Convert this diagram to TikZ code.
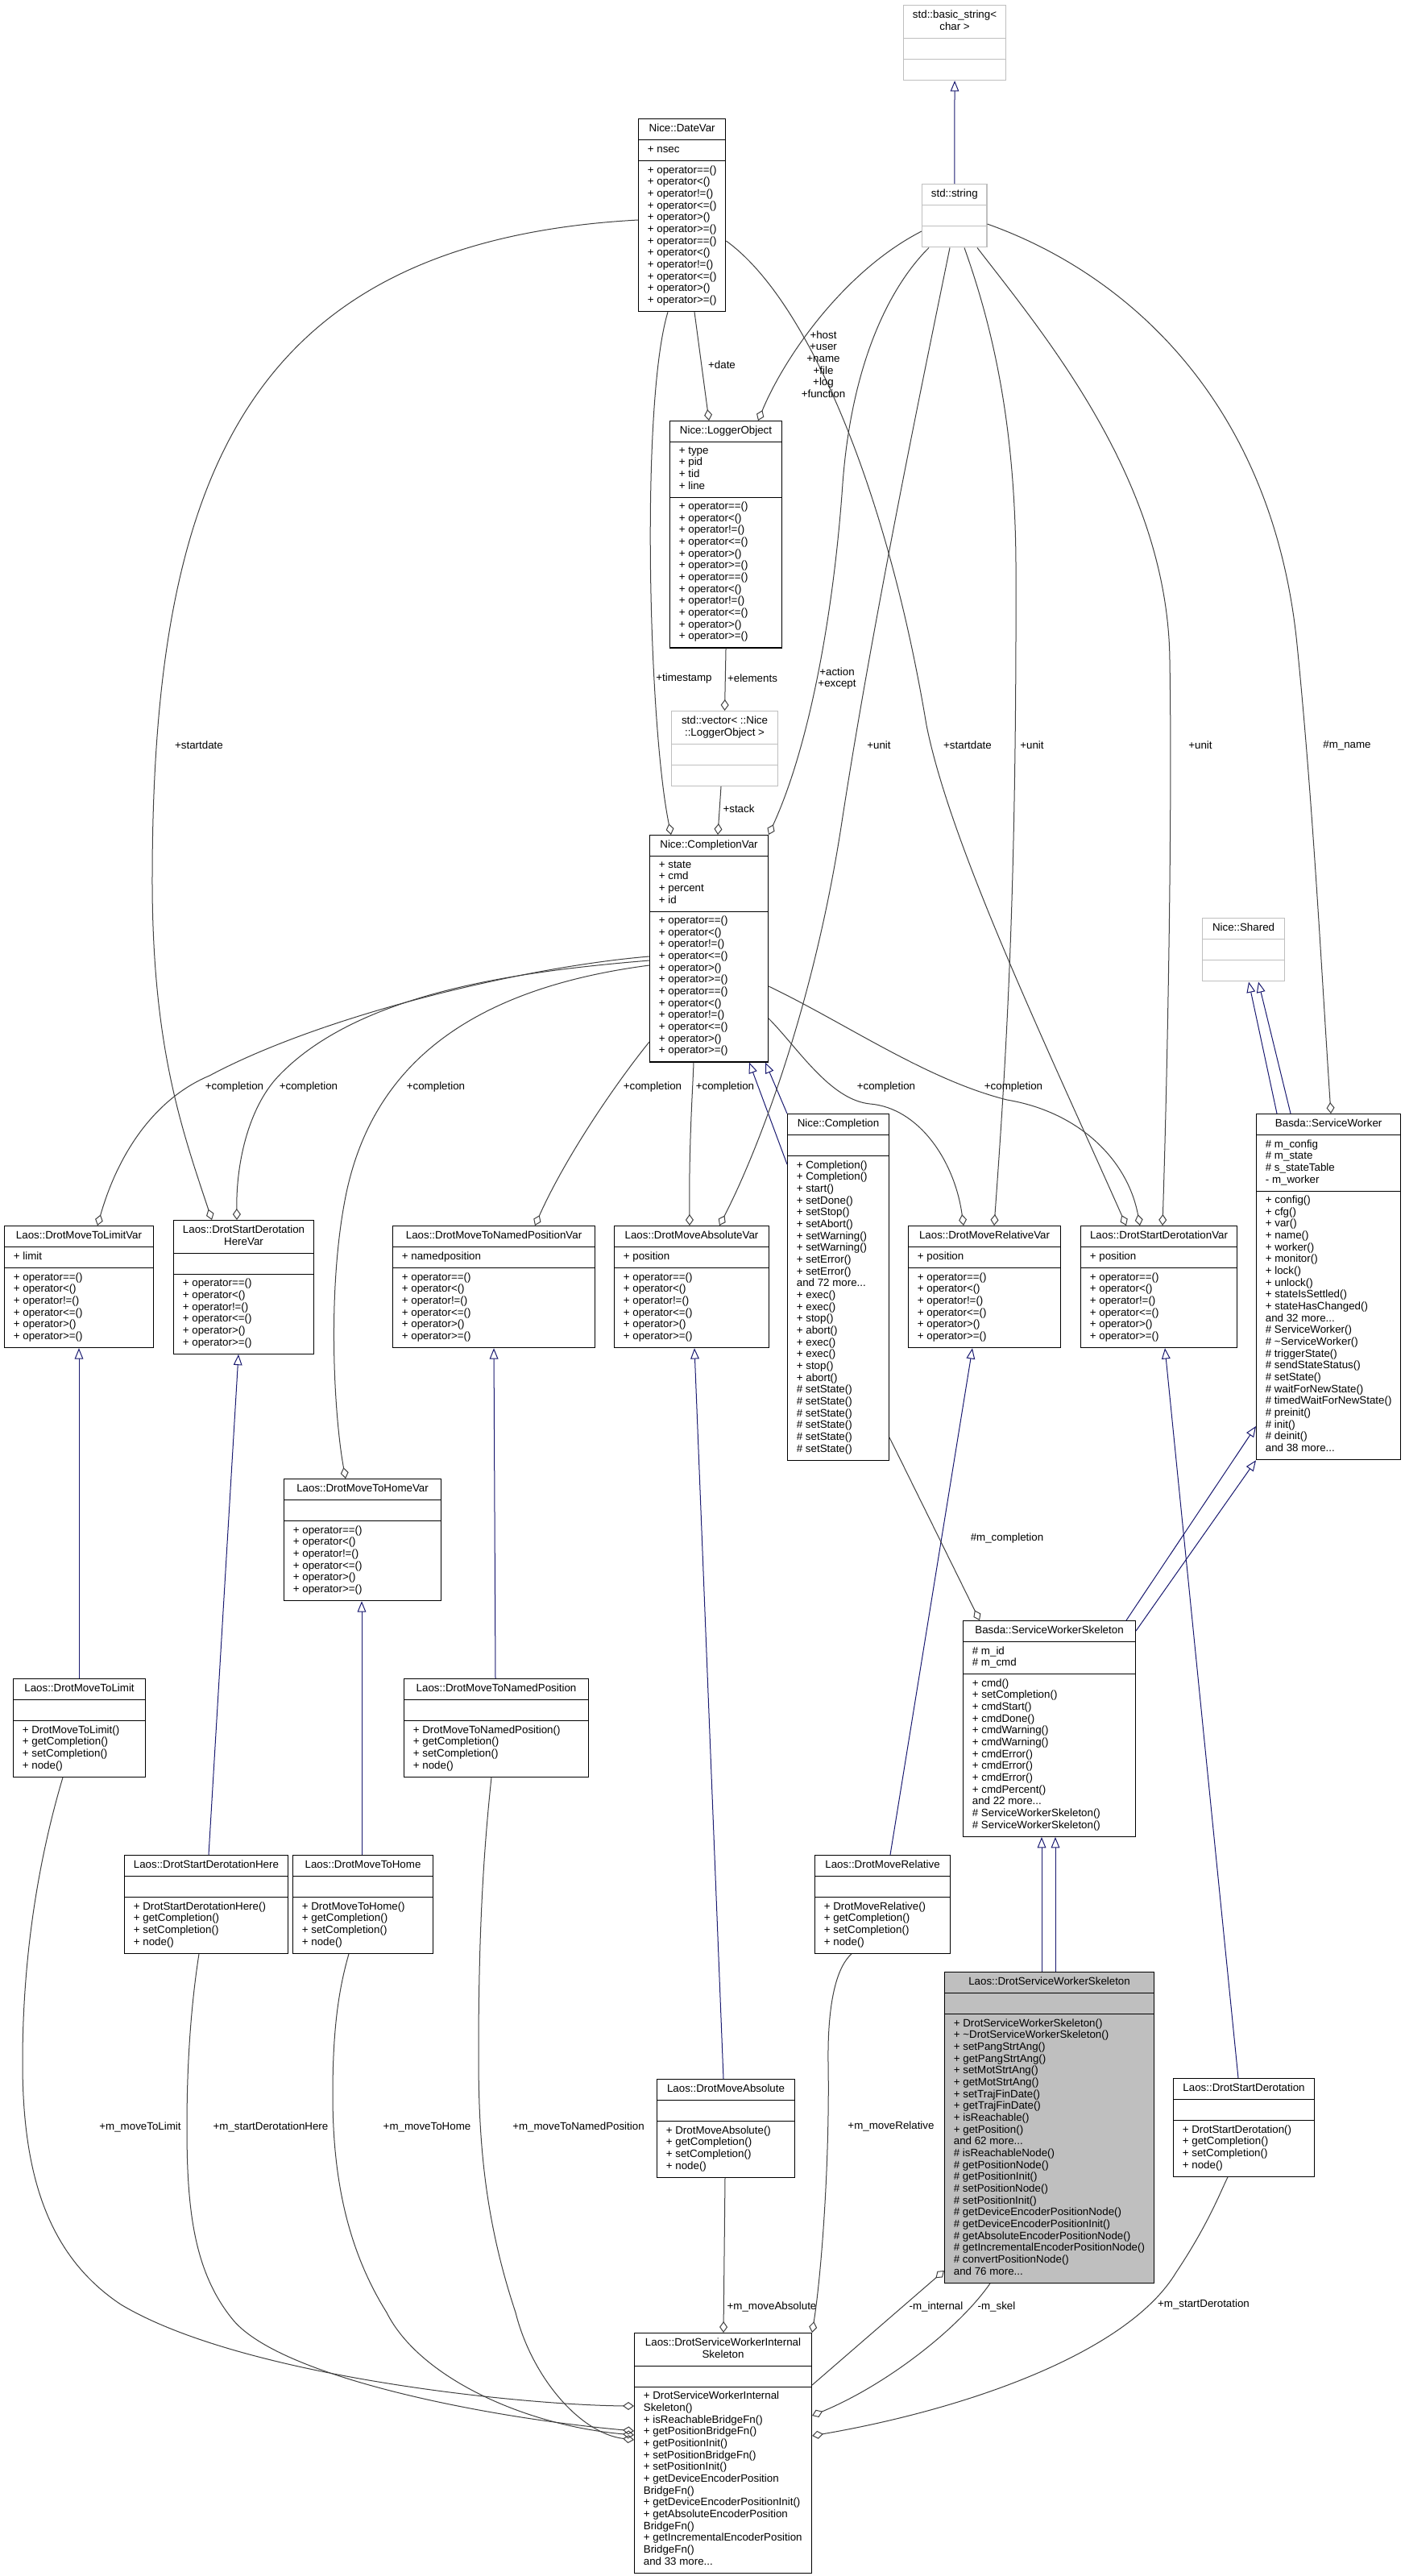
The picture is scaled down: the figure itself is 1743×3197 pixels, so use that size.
\documentclass[tikz,border=0pt]{standalone}
\usepackage{fontspec}
\setmainfont{Liberation Sans}
\usetikzlibrary{arrows.meta,shapes.multipart}
\definecolor{doxEdge}{HTML}{404040}
\definecolor{doxBlue}{HTML}{191970}
\definecolor{doxGrey}{HTML}{BFBFBF}
\newcommand\opssix{+ operator==()\\+ operator<()\\+ operator!=()\\+ operator<=()\\+ operator>()\\+ operator>=()}
\newcommand\opstwelve{\opssix\\\opssix}
\newcommand\twoline[1]{\begin{tabular}{@{}c@{}}#1\end{tabular}}
\newcommand\fourmeth[1]{+ #1()\\+ getCompletion()\\+ setCompletion()\\+ node()}

\begin{document}
\begin{tikzpicture}[x=0.75pt,y=-0.75pt,
    cls/.style={rectangle split, rectangle split parts=3,
      rectangle split part align={center,left,left}, align=left,
      draw=black, line width=0.8pt, anchor=north west,
      minimum width=#1*0.75pt, inner xsep=8.5pt, inner ysep=3.9pt,
      font=\fontsize{10}{11}\selectfont, execute at begin node=\strut},
    ext/.style={cls=#1, draw=doxGrey},
    cur/.style={cls=#1, fill=doxGrey},
    agg/.style={draw=doxEdge, line width=0.75pt, {Diamond[open,length=10.5pt,width=7.5pt]}-},
    inh/.style={draw=doxBlue, line width=0.75pt, {Triangle[open,length=10pt,width=8pt]}-},
    lbl/.style={font=\fontsize{10}{11}\selectfont, inner sep=0pt, align=center}]
  \fill[white] (0,0) rectangle (1743,3197);
  \useasboundingbox (0,0) rectangle (1743,3197);

  % classes
  \node[ext=127] (bstr) at (1121,6) {\twoline{std::basic\_string<\\char >}\nodepart{two}\nodepart{three}};
  \node[ext=80] (str) at (1144,228) {std::string\nodepart{two}\nodepart{three}};
  \node[cls=108] (datevar) at (792,147) {Nice::DateVar\nodepart{two}+ nsec\nodepart{three}\opstwelve};
  \node[cls=139] (logger) at (831,522) {Nice::LoggerObject\nodepart{two}+ type\\+ pid\\+ tid\\+ line\nodepart{three}\opstwelve};
  \node[ext=132] (vec) at (833,882) {\twoline{std::vector< ::Nice\\::LoggerObject >}\nodepart{two}\nodepart{three}};
  \node[cls=147] (complvar) at (806,1036) {Nice::CompletionVar\nodepart{two}+ state\\+ cmd\\+ percent\\+ id\nodepart{three}\opstwelve};
  \node[cls=126] (compl) at (977,1382) {Nice::Completion\nodepart{two}\nodepart{three}+ Completion()\\+ Completion()\\+ start()\\+ setDone()\\+ setStop()\\+ setAbort()\\+ setWarning()\\+ setWarning()\\+ setError()\\+ setError()\\and 72 more...\\+ exec()\\+ exec()\\+ stop()\\+ abort()\\+ exec()\\+ exec()\\+ stop()\\+ abort()\\\# setState()\\\# setState()\\\# setState()\\\# setState()\\\# setState()\\\# setState()};
  \node[ext=102] (shared) at (1492,1139) {Nice::Shared\nodepart{two}\nodepart{three}};
  \node[cls=179] (sworker) at (1559,1382) {Basda::ServiceWorker\nodepart{two}\# m\_config\\\# m\_state\\\# s\_stateTable\\- m\_worker\nodepart{three}+ config()\\+ cfg()\\+ var()\\+ name()\\+ worker()\\+ monitor()\\+ lock()\\+ unlock()\\+ stateIsSettled()\\+ stateHasChanged()\\and 32 more...\\\# ServiceWorker()\\\# \textasciitilde ServiceWorker()\\\# triggerState()\\\# sendStateStatus()\\\# setState()\\\# waitForNewState()\\\# timedWaitForNewState()\\\# preinit()\\\# init()\\\# deinit()\\and 38 more...};
  \node[cls=185] (limitvar) at (5,1521) {Laos::DrotMoveToLimitVar\nodepart{two}+ limit\nodepart{three}\opssix};
  \node[cls=174] (herevar) at (215,1514) {\twoline{Laos::DrotStartDerotation\\HereVar}\nodepart{two}\nodepart{three}\opssix};
  \node[cls=251] (namedvar) at (487,1521) {Laos::DrotMoveToNamedPositionVar\nodepart{two}+ namedposition\nodepart{three}\opssix};
  \node[cls=192] (absvar) at (762,1521) {Laos::DrotMoveAbsoluteVar\nodepart{two}+ position\nodepart{three}\opssix};
  \node[cls=189] (relvar) at (1127,1521) {Laos::DrotMoveRelativeVar\nodepart{two}+ position\nodepart{three}\opssix};
  \node[cls=194] (derotvar) at (1341,1521) {Laos::DrotStartDerotationVar\nodepart{two}+ position\nodepart{three}\opssix};
  \node[cls=195] (homevar) at (352,1835) {Laos::DrotMoveToHomeVar\nodepart{two}\nodepart{three}\opssix};
  \node[cls=214] (swskel) at (1195,2011) {Basda::ServiceWorkerSkeleton\nodepart{two}\# m\_id\\\# m\_cmd\nodepart{three}+ cmd()\\+ setCompletion()\\+ cmdStart()\\+ cmdDone()\\+ cmdWarning()\\+ cmdWarning()\\+ cmdError()\\+ cmdError()\\+ cmdError()\\+ cmdPercent()\\and 22 more...\\\# ServiceWorkerSkeleton()\\\# ServiceWorkerSkeleton()};
  \node[cls=164] (limit) at (16,2083) {Laos::DrotMoveToLimit\nodepart{two}\nodepart{three}\fourmeth{DrotMoveToLimit}};
  \node[cls=229] (named) at (501,2083) {Laos::DrotMoveToNamedPosition\nodepart{two}\nodepart{three}\fourmeth{DrotMoveToNamedPosition}};
  \node[cls=202] (here) at (154,2302) {Laos::DrotStartDerotationHere\nodepart{two}\nodepart{three}\fourmeth{DrotStartDerotationHere}};
  \node[cls=174] (home) at (363,2302) {Laos::DrotMoveToHome\nodepart{two}\nodepart{three}\fourmeth{DrotMoveToHome}};
  \node[cls=168] (rel) at (1011,2302) {Laos::DrotMoveRelative\nodepart{two}\nodepart{three}\fourmeth{DrotMoveRelative}};
  \node[cur=260] (drotskel) at (1172,2447) {Laos::DrotServiceWorkerSkeleton\nodepart{two}\nodepart{three}+ DrotServiceWorkerSkeleton()\\+ \textasciitilde DrotServiceWorkerSkeleton()\\+ setPangStrtAng()\\+ getPangStrtAng()\\+ setMotStrtAng()\\+ getMotStrtAng()\\+ setTrajFinDate()\\+ getTrajFinDate()\\+ isReachable()\\+ getPosition()\\and 62 more...\\\# isReachableNode()\\\# getPositionNode()\\\# getPositionInit()\\\# setPositionNode()\\\# setPositionInit()\\\# getDeviceEncoderPositionNode()\\\# getDeviceEncoderPositionInit()\\\# getAbsoluteEncoderPositionNode()\\\# getIncrementalEncoderPositionNode()\\\# convertPositionNode()\\and 76 more...};
  \node[cls=175] (derot) at (1456,2579) {Laos::DrotStartDerotation\nodepart{two}\nodepart{three}\fourmeth{DrotStartDerotation}};
  \node[cls=171] (abs) at (815,2580) {Laos::DrotMoveAbsolute\nodepart{two}\nodepart{three}\fourmeth{DrotMoveAbsolute}};
  \node[cls=220] (internal) at (787,2895) {\twoline{Laos::DrotServiceWorkerInternal\\Skeleton}\nodepart{two}\nodepart{three}+ DrotServiceWorkerInternal\\Skeleton()\\+ isReachableBridgeFn()\\+ getPositionBridgeFn()\\+ getPositionInit()\\+ setPositionBridgeFn()\\+ setPositionInit()\\+ getDeviceEncoderPosition\\BridgeFn()\\+ getDeviceEncoderPositionInit()\\+ getAbsoluteEncoderPosition\\BridgeFn()\\+ getIncrementalEncoderPosition\\BridgeFn()\\and 33 more...};

  % inheritance
  \draw[inh] (bstr.south) -- (str.north);
  \draw[inh] (930,0 |- complvar.south) -- (compl.west |- 0,1445);
  \draw[inh] (950,0 |- complvar.south) -- (compl.north west);
  \draw[inh] (1550,0 |- shared.south) -- (1585,0 |- sworker.north);
  \draw[inh] (1562,0 |- shared.south) -- (1602,0 |- sworker.north);
  \draw[inh] (sworker.west |- 0,1770) -- (1398,0 |- swskel.north);
  \draw[inh] (sworker.south west) -- (swskel.east |- 0,2024);
  \draw[inh] (98,0 |- limitvar.south) -- (98,0 |- limit.north);
  \draw[inh] (296,0 |- herevar.south) -- (259,0 |- here.north);
  \draw[inh] (449,0 |- homevar.south) -- (449,0 |- home.north);
  \draw[inh] (613,0 |- namedvar.south) -- (615,0 |- named.north);
  \draw[inh] (862,0 |- absvar.south) -- (898,0 |- abs.north);
  \draw[inh] (1207,0 |- relvar.south) -- (1105,0 |- rel.north);
  \draw[inh] (1446,0 |- derotvar.south) -- (1537,0 |- derot.north);
  \draw[inh] (1293,0 |- swskel.south) -- (1293,0 |- drotskel.north);
  \draw[inh] (1310,0 |- swskel.south) -- (1310,0 |- drotskel.north);

  % members
  \draw[agg] (880,0 |- logger.north) -- (862,0 |- datevar.south);
  \draw[agg] (941,0 |- logger.north) .. controls (975,440) and (1050,335) .. (str.west |- 0,287);
  \draw[agg] (833,0 |- complvar.north) .. controls (805,900) and (795,500) .. (829,0 |- datevar.south);
  \draw[agg] (vec.north) -- (logger.south);
  \draw[agg] (891,0 |- complvar.north) -- (895,0 |- vec.south);
  \draw[agg] (complvar.north east) .. controls (1005,925) and (1035,760) .. (1046,600) .. controls (1058,440) and (1110,350) .. (1153,0 |- str.south);
  \draw[agg] (893,0 |- absvar.north) .. controls (940,1430) and (1010,1250) .. (1045,1020) .. controls (1085,760) and (1150,450) .. (1179,0 |- str.south);
  \draw[agg] (1398,0 |- derotvar.north) .. controls (1300,1300) and (1180,1050) .. (1150,900) .. controls (1100,600) and (1000,370) .. (datevar.east |- 0,299);
  \draw[agg] (1234,0 |- relvar.north) .. controls (1250,1300) and (1262,1100) .. (1261,700) .. controls (1260,520) and (1230,400) .. (1197,0 |- str.south);
  \draw[agg] (1443,0 |- derotvar.north) .. controls (1450,1300) and (1455,1000) .. (1452,820) .. controls (1450,600) and (1300,420) .. (1213,0 |- str.south);
  \draw[agg] (1652,0 |- sworker.north) .. controls (1640,1200) and (1630,1000) .. (1610,800) .. controls (1580,500) and (1400,340) .. (str.east |- 0,278);
  \draw[agg] (263,0 |- herevar.north) .. controls (225,1400) and (190,1300) .. (189,1100) .. controls (188,600) and (300,300) .. (datevar.west |- 0,273);
  \draw[agg] (121,0 |- limitvar.north) .. controls (150,1420) and (200,1360) .. (260,1335) .. controls (400,1260) and (650,1200) .. (complvar.west |- 0,1187);
  \draw[agg] (294,0 |- herevar.north) .. controls (293,1440) and (310,1370) .. (349,1332) .. controls (450,1230) and (650,1205) .. (complvar.west |- 0,1192);
  \draw[agg] (429,0 |- homevar.north) .. controls (415,1760) and (405,1600) .. (430,1480) .. controls (460,1340) and (560,1230) .. (complvar.west |- 0,1198);
  \draw[agg] (664,0 |- namedvar.north) .. controls (700,1440) and (760,1350) .. (complvar.west |- 0,1293);
  \draw[agg] (856,0 |- absvar.north) .. controls (855,1420) and (860,1350) .. (861,0 |- complvar.south);
  \draw[agg] (1196,0 |- relvar.north) .. controls (1185,1440) and (1140,1375) .. (1080,1370) .. controls (1030,1365) and (990,1300) .. (complvar.east |- 0,1264);
  \draw[agg] (1415,0 |- derotvar.north) .. controls (1400,1440) and (1340,1380) .. (1250,1365) .. controls (1150,1340) and (1050,1270) .. (complvar.east |- 0,1224);
  \draw[agg] (1216,0 |- swskel.north) -- (compl.east |- 0,1784);
  \draw[agg] (898,0 |- internal.north) -- (900,0 |- abs.south);
  \draw[agg] (internal.north east) .. controls (1020,2820) and (1030,2680) .. (1028,2560) .. controls (1027,2480) and (1040,2440) .. (1057,0 |- rel.south);
  \draw[agg] (drotskel.west |- 0,2818) -- (internal.east |- 0,2960);
  \draw[agg] (internal.east |- 0,2998) .. controls (1100,2960) and (1190,2890) .. (1229,0 |- drotskel.south);
  \draw[agg] (internal.east |- 0,3023) .. controls (1200,2990) and (1400,2920) .. (1460,2820) .. controls (1500,2760) and (1515,2720) .. (1524,0 |- derot.south);
  \draw[agg] (internal.west |- 0,2986) .. controls (650,2985) and (300,2950) .. (150,2860) .. controls (60,2800) and (28,2700) .. (28,2560) .. controls (28,2420) and (50,2300) .. (78,0 |- limit.south);
  \draw[agg] (internal.west |- 0,3017) .. controls (600,3000) and (350,2950) .. (290,2880) .. controls (240,2820) and (232,2740) .. (232,2640) .. controls (232,2540) and (240,2470) .. (247,0 |- here.south);
  \draw[agg] (internal.west |- 0,3022) .. controls (650,3010) and (520,2950) .. (480,2870) .. controls (430,2790) and (413,2700) .. (413,2600) .. controls (413,2520) and (420,2470) .. (433,0 |- home.south);
  \draw[agg] (internal.west |- 0,3028) .. controls (720,3020) and (660,2950) .. (640,2870) .. controls (600,2750) and (594,2650) .. (594,2550) .. controls (594,2400) and (600,2300) .. (610,0 |- named.south);

  % labels
  \node[lbl] (l-date) at (896,453) {+date};
  \node[lbl] (l-host) at (1022,452) {+host\\+user\\+name\\+file\\+log\\+function};
  \node[lbl] (l-tstamp) at (849,842) {+timestamp};
  \node[lbl] (l-elem) at (934,842) {+elements};
  \node[lbl] (l-action) at (1039,842) {+action\\+except};
  \node[lbl] (l-unit1) at (1091,925) {+unit};
  \node[lbl] (l-sdate1) at (1201,925) {+startdate};
  \node[lbl] (l-unit2) at (1281,925) {+unit};
  \node[lbl] (l-unit3) at (1490,925) {+unit};
  \node[lbl] (l-name) at (1672,925) {\#m\_name};
  \node[lbl] (l-sdate2) at (247,925) {+startdate};
  \node[lbl] (l-stack) at (917,1004) {+stack};
  \node[lbl] (l-c1) at (291,1349) {+completion};
  \node[lbl] (l-c2) at (383,1349) {+completion};
  \node[lbl] (l-c3) at (541,1349) {+completion};
  \node[lbl] (l-c4) at (810,1349) {+completion};
  \node[lbl] (l-c5) at (900,1349) {+completion};
  \node[lbl] (l-c6) at (1100,1349) {+completion};
  \node[lbl] (l-c7) at (1258,1349) {+completion};
  \node[lbl] (l-mcompl) at (1250,1909) {\#m\_completion};
  \node[lbl] (l-mlimit) at (174,2640) {+m\_moveToLimit};
  \node[lbl] (l-mhere) at (336,2640) {+m\_startDerotationHere};
  \node[lbl] (l-mhome) at (530,2640) {+m\_moveToHome};
  \node[lbl] (l-mnamed) at (718,2640) {+m\_moveToNamedPosition};
  \node[lbl] (l-mrel) at (1106,2639) {+m\_moveRelative};
  \node[lbl] (l-mabs) at (958,2863) {+m\_moveAbsolute};
  \node[lbl] (l-mint) at (1162,2863) {-m\_internal};
  \node[lbl] (l-mskel) at (1237,2863) {-m\_skel};
  \node[lbl] (l-mderot) at (1494,2860) {+m\_startDerotation};
\end{tikzpicture}
\end{document}
